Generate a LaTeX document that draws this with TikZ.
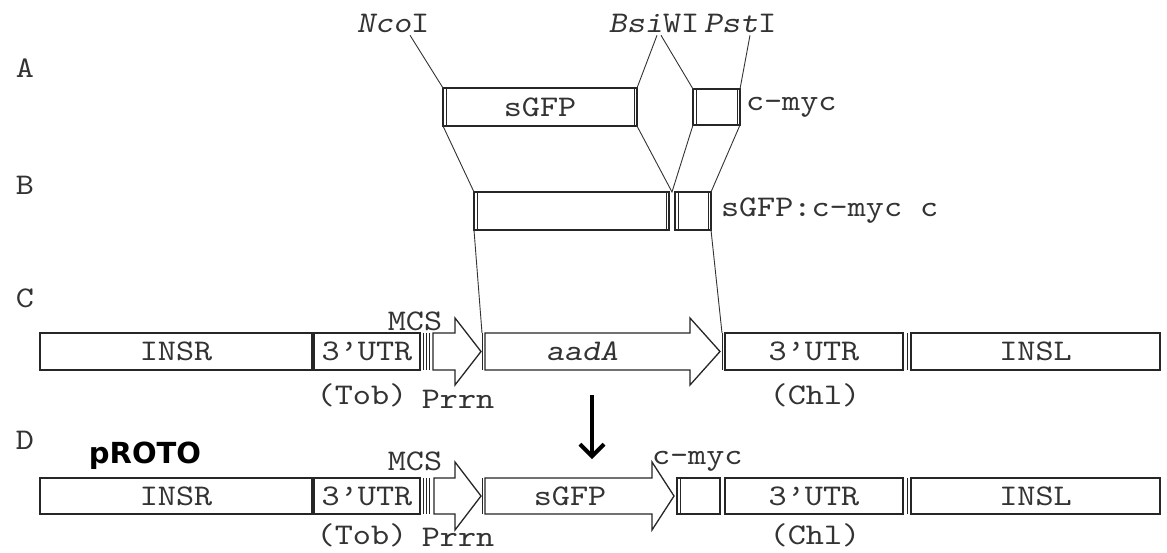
\documentclass[tikz,border=0pt]{standalone}
\usepackage{fontspec}
\setmonofont{lmmono10-regular.otf}[ItalicFont=lmmonoslant10-regular.otf, FakeStretch=1.15]
\newfontfamily\protofont{DejaVu Sans}
\usetikzlibrary{arrows.meta}
\newcommand\seqfont{\ttfamily\fontsize{30}{32}\selectfont}
\begin{document}
\begin{tikzpicture}[x=1pt, y=-1pt,
  ink/.style={draw=black!85, line width=1.3pt},
  sep/.style={draw=black!85, line width=0.9pt},
  hair/.style={draw=black!80, line width=0.9pt},
  box/.style={ink, rectangle, inner sep=0pt, outer sep=0pt, anchor=north west, font=\seqfont, text=black!80},
  lbl/.style={inner sep=0pt, outer sep=0pt, font=\seqfont, text=black!80},
  ilbl/.style={lbl, font=\seqfont\itshape}]
\fill[white] (0,0) rectangle (1167,552);
\useasboundingbox (0,0) rectangle (1167,552);

% row letters
\node[lbl] (rowA) at (25,68) {A};
\node[lbl] (rowB) at (25,185) {B};
\node[lbl] (rowC) at (25,298) {C};
\node[lbl] (rowD) at (25,440) {D};

% ---------- Row A
\node[box, minimum width=194pt, minimum height=38pt] (Agfp) at (443,88) {sGFP};
\node[box, minimum width=47pt, minimum height=36pt] (Amyc) at (693,89) {};
\node[lbl, anchor=west] (Amyclbl) at (746,107) {c-myc};
\node[lbl] (nco) at (393,23) {\textit{Nco}I};
\node[lbl] (bsi) at (654,23) {\textit{Bsi}WI};
\node[lbl] (pst) at (740,23) {\textit{Pst}I};
\draw[hair] ([xshift=17pt,yshift=-3pt]nco.south) -- (Agfp.north west);
\draw[hair] ([xshift=3pt,yshift=-3pt]bsi.south) -- (Agfp.north east);
\draw[hair] ([xshift=7pt,yshift=-3pt]bsi.south) -- (Amyc.north west);
\draw[hair] ([xshift=10pt,yshift=-3pt]pst.south) -- (Amyc.north east);

% ---------- Row B
\node[box, minimum width=195pt, minimum height=38pt] (Bgfp) at (474,192) {};
\node[box, minimum width=36pt, minimum height=38pt] (Bmyc) at (675,192) {};
\node[lbl, anchor=west] (Blbl) at (721,211) {sGFP:c-myc c};
\foreach \n in {Agfp,Amyc,Bgfp,Bmyc} {
  \draw[sep] ([xshift=3pt]\n.north west) -- ([xshift=3pt]\n.south west);
  \draw[sep] ([xshift=-3pt]\n.north east) -- ([xshift=-3pt]\n.south east);
}
\coordinate (Bv) at (672,192);
\draw[hair] (Agfp.south west) -- (Bgfp.north west);
\draw[hair] (Agfp.south east) -- (Bv) -- (Amyc.south west);
\draw[hair] (Amyc.south east) -- (Bmyc.north east);

% ---------- Row C
\node[box, minimum width=272pt, minimum height=37pt] (Cinsr) at (40,333) {INSR};
\node[box, minimum width=106pt, minimum height=37pt] (Cutra) at (314,333) {3’UTR};
\foreach \s in {3,6,9} \draw[sep] ([xshift=\s pt]Cutra.north east) -- ([xshift=\s pt]Cutra.south east);
\draw[ink] (433,333) -- (455,333) -- (455,318) -- (481,351.5) -- (455,385) -- (455,370) -- (433,370) -- cycle;
\coordinate (CaadaNW) at (482,333);
\draw[sep] (CaadaNW) -- (482,370);
\draw[ink] (485,333) -- (690,333) -- (690,318) -- (720,351.5) -- (690,385) -- (690,370) -- (485,370) -- cycle;
\node[ilbl] (Caada) at (582,351.5) {aadA};
\coordinate (CutrNW) at (722,333);
\draw[sep] (CutrNW) -- (722,370);
\node[box, minimum width=178pt, minimum height=37pt] (Cutrb) at (725,333) {3’UTR};
\draw[sep] ([xshift=4pt]Cutrb.north east) -- ([xshift=4pt]Cutrb.south east);
\node[box, minimum width=249pt, minimum height=37pt] (Cinsl) at (911,333) {INSL};
\node[lbl] (Cmcs) at (415,321) {MCS};
\node[lbl] (Ctob) at (362,395) {(Tob)};
\node[lbl] (Cprrn) at (458,399) {Prrn};
\node[lbl] (Cchl) at (815,395) {(Chl)};
\draw[hair] (Bgfp.south west) -- (CaadaNW);
\draw[hair] (Bmyc.south east) -- (CutrNW);

% ---------- transition arrow
\coordinate (arrTop) at (592,395);
\coordinate (arrBot) at (592,459);
\draw[black, line width=4pt, -{Straight Barb[length=12pt, width=24pt]}] (arrTop) -- (arrBot);

% ---------- Row D
\node[inner sep=0pt, font=\protofont\bfseries\fontsize{29}{30}\selectfont] (proto) at (145,456) {pROTO};
\node[box, minimum width=272pt, minimum height=36pt] (Dinsr) at (40,478) {INSR};
\node[box, minimum width=106pt, minimum height=36pt] (Dutra) at (314,478) {3’UTR};
\foreach \s in {3,6,9} \draw[sep] ([xshift=\s pt]Dutra.north east) -- ([xshift=\s pt]Dutra.south east);
\draw[ink] (434,478) -- (455,478) -- (455,462) -- (481,496) -- (455,530) -- (455,514) -- (434,514) -- cycle;
\draw[sep] (482,478) -- (482,514);
\draw[ink] (485,478) -- (652,478) -- (652,462) -- (674,496) -- (652,530) -- (652,514) -- (485,514) -- cycle;
\node[lbl] (Dgfp) at (570,496) {sGFP};
\node[box, minimum width=43pt, minimum height=36pt] (Dmyc) at (677,478) {};
\draw[sep] ([xshift=3pt]Dmyc.north west) -- ([xshift=3pt]Dmyc.south west);
\node[box, minimum width=178pt, minimum height=36pt] (Dutrb) at (725,478) {3’UTR};
\draw[sep] ([xshift=4pt]Dutrb.north east) -- ([xshift=4pt]Dutrb.south east);
\node[box, minimum width=249pt, minimum height=36pt] (Dinsl) at (911,478) {INSL};
\node[lbl, anchor=west] (Dmyclbl) at (652,461) {c-myc};
\node[lbl] (Dmcs) at (415,461) {MCS};
\node[lbl] (Dtob) at (362,535) {(Tob)};
\node[lbl] (Dprrn) at (458,537) {Prrn};
\node[lbl] (Dchl) at (815,535) {(Chl)};
\end{tikzpicture}
\end{document}
